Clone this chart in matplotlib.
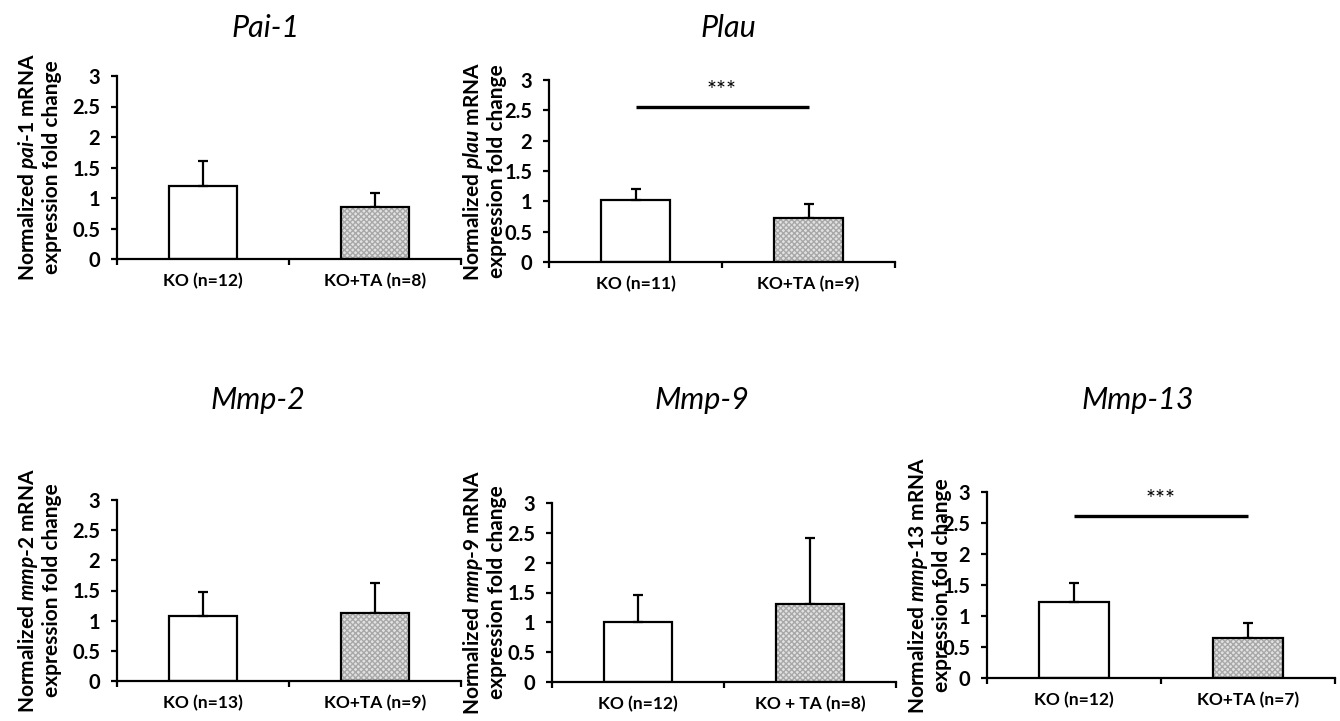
import matplotlib
matplotlib.use("Agg")
import matplotlib.pyplot as plt

plt.rcParams['font.family'] = ['Lato', 'DejaVu Sans']
plt.rcParams['mathtext.fontset'] = 'custom'
plt.rcParams['mathtext.rm'] = 'Lato:bold'
plt.rcParams['mathtext.it'] = 'Lato:italic:bold'
plt.rcParams['mathtext.bf'] = 'Lato:bold'

# ---- data ----
titles = ["Pai-1", "Plau", "Mmp-2", "Mmp-9", "Mmp-13"]
label_genes = ["pai-1", "plau", "mmp-2", "mmp-9", "mmp-13"]
ko_means = [1.19, 1.02, 1.08, 1.00, 1.23]
ko_errs = [0.42, 0.18, 0.40, 0.45, 0.31]
ta_means = [0.85, 0.72, 1.13, 1.30, 0.65]
ta_errs = [0.24, 0.24, 0.50, 1.11, 0.24]
ko_labels = ["KO (n=12)", "KO (n=11)", "KO (n=13)", "KO (n=12)", "KO (n=12)"]
ta_labels = ["KO+TA (n=8)", "KO+TA (n=9)", "KO+TA (n=9)", "KO + TA (n=8)", "KO+TA (n=7)"]
sig_levels = [None, 2.55, None, None, 2.61]
sig_text = "***"
yticks = [0, 0.5, 1, 1.5, 2, 2.5, 3]
ytick_labels = ["0", "0.5", "1", "1.5", "2", "2.5", "3"]

W, H = 1340, 721
fig = plt.figure(figsize=(W / 100, H / 100), dpi=100)

# layout in pixels: (left, right, top, bottom)
boxes = [(117, 461, 76, 259), (549, 895, 80, 262),
         (117, 461, 500, 681), (552, 896, 503, 682), (987, 1335, 492, 678)]
title_pos = [(266, 28), (728, 28), (258, 400), (702, 400), (1138, 400)]
ylabel_right = [62, 507, 62, 507, 952]


def italic_gene(g):
    parts = g.split("-")
    return "-".join(r"$\mathit{" + p + "}$" for p in parts)


for i in range(5):
    l, r, t, b = boxes[i]
    ax = fig.add_axes([l / W, 1 - b / H, (r - l) / W, (b - t) / H])
    x = [0.5, 1.5]
    # hatched fill for treated bar
    ax.bar([x[1]], [ta_means[i]], width=0.4, color='#e2e2e2', hatch='xxxxxx',
           edgecolor='#a8a8a8', linewidth=0, zorder=2)
    ax.bar(x, [ko_means[i], ta_means[i]], width=0.4, facecolor='none',
           edgecolor='black', linewidth=1.6, zorder=3)
    ax.errorbar(x, [ko_means[i], ta_means[i]],
                yerr=[[0, 0], [ko_errs[i], ta_errs[i]]], fmt='none',
                ecolor='black', elinewidth=1.6, capsize=3.5, capthick=1.6, zorder=1)
    if sig_levels[i] is not None:
        ax.plot([0.5, 1.5], [sig_levels[i], sig_levels[i]], color='black',
                lw=2.4, solid_capstyle='butt', clip_on=False)
        ax.text(1.0, sig_levels[i] + 0.1, sig_text, ha='center', va='bottom',
                fontsize=17)
    ax.set_xlim(0, 2)
    ax.set_ylim(0, 3)
    for s in ['top', 'right']:
        ax.spines[s].set_visible(False)
    for s in ['left', 'bottom']:
        ax.spines[s].set_linewidth(1.6)
    ax.set_yticks(yticks)
    ax.set_yticklabels(ytick_labels, fontsize=14.5, fontweight='bold')
    ax.tick_params(axis='y', direction='out', length=4, width=1.6, pad=8)
    ax.set_xticks([0, 1, 2])
    ax.set_xticklabels([])
    ax.tick_params(axis='x', which='major', direction='out', length=4, width=1.6)
    ax.set_xticks(x, minor=True)
    ax.set_xticklabels([ko_labels[i], ta_labels[i]], minor=True,
                       fontsize=12.5, fontweight='bold')
    ax.tick_params(axis='x', which='minor', length=0, pad=10)
    ax.set_ylabel("Normalized " + italic_gene(label_genes[i]) + " mRNA\nexpression fold change",
                  fontsize=15, fontweight='bold', linespacing=1.1)
    ax.yaxis.set_label_coords((ylabel_right[i] - l) / (r - l), 0.5)
    ax.patch.set_alpha(0)
    tx, ty = title_pos[i]
    fig.text(tx / W, 1 - ty / H, titles[i], ha='center', va='center',
             fontsize=22, fontstyle='italic')

fig.savefig("out.png", dpi=100)
